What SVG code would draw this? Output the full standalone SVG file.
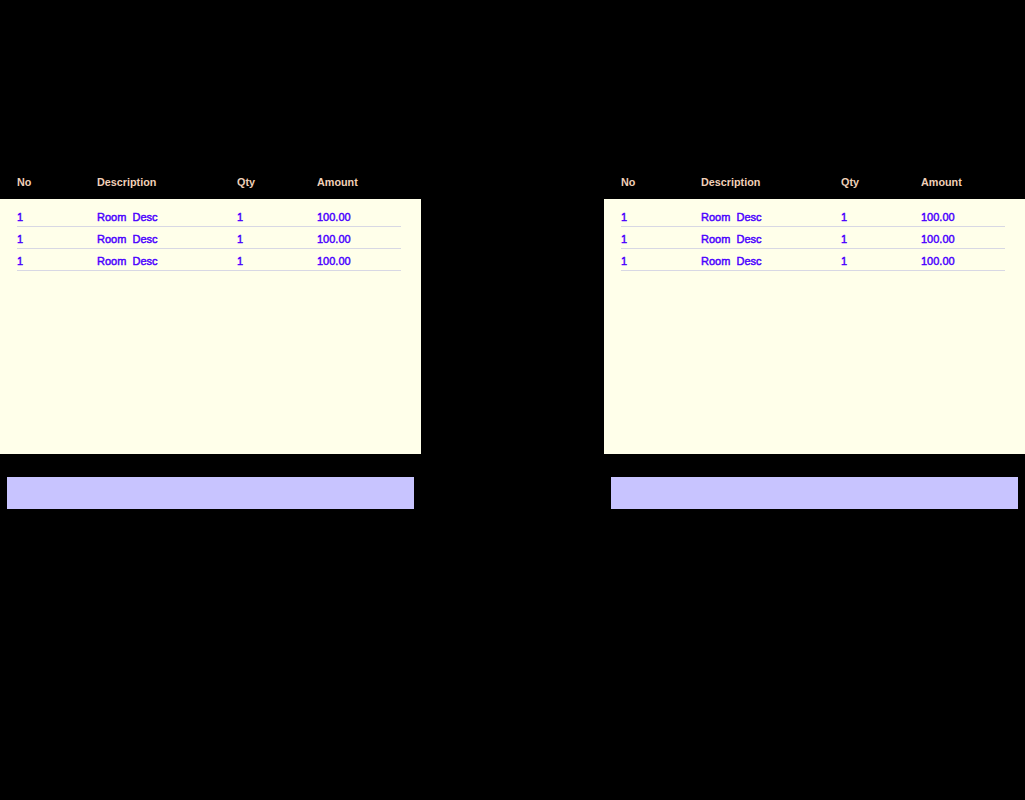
<svg xmlns="http://www.w3.org/2000/svg" width="1025" height="800" viewBox="0 0 1025 800">
<style>
.hd{font-family:"Liberation Sans",Arial,sans-serif;font-size:10.8px;font-weight:bold;fill:#f0d0b8}
.td{font-family:"Liberation Sans",Arial,sans-serif;font-size:11px;fill:#4a00ff;white-space:pre;stroke:#4a00ff;stroke-width:0.45}
.panel{fill:#ffffea}
.bar{fill:#c8c4ff}
.sep{stroke:#d8d8e4;stroke-width:1}
</style>
<rect x="0" y="0" width="1025" height="800" fill="#000"/>
<g id="left-table">
<rect class="panel" x="0" y="199" width="421" height="255"/>
<text class="hd" x="17" y="186">No</text>
<text class="hd" x="97" y="186">Description</text>
<text class="hd" x="237" y="186">Qty</text>
<text class="hd" x="317" y="186">Amount</text>
<g>
<text class="td" x="17" y="221">1</text><text class="td" x="97" y="221" xml:space="preserve">Room  Desc</text><text class="td" x="237" y="221">1</text><text class="td" x="317" y="221">100.00</text>
<line class="sep" x1="17" y1="226.5" x2="401" y2="226.5"/>
<text class="td" x="17" y="243">1</text><text class="td" x="97" y="243" xml:space="preserve">Room  Desc</text><text class="td" x="237" y="243">1</text><text class="td" x="317" y="243">100.00</text>
<line class="sep" x1="17" y1="248.5" x2="401" y2="248.5"/>
<text class="td" x="17" y="265">1</text><text class="td" x="97" y="265" xml:space="preserve">Room  Desc</text><text class="td" x="237" y="265">1</text><text class="td" x="317" y="265">100.00</text>
<line class="sep" x1="17" y1="270.5" x2="401" y2="270.5"/>
</g>
</g>
<g id="left-bar"><rect class="bar" x="7" y="477" width="407" height="32"/></g>
<g id="right-table">
<rect class="panel" x="604" y="199" width="421" height="255"/>
<text class="hd" x="621" y="186">No</text>
<text class="hd" x="701" y="186">Description</text>
<text class="hd" x="841" y="186">Qty</text>
<text class="hd" x="921" y="186">Amount</text>
<g>
<text class="td" x="621" y="221">1</text><text class="td" x="701" y="221" xml:space="preserve">Room  Desc</text><text class="td" x="841" y="221">1</text><text class="td" x="921" y="221">100.00</text>
<line class="sep" x1="621" y1="226.5" x2="1005" y2="226.5"/>
<text class="td" x="621" y="243">1</text><text class="td" x="701" y="243" xml:space="preserve">Room  Desc</text><text class="td" x="841" y="243">1</text><text class="td" x="921" y="243">100.00</text>
<line class="sep" x1="621" y1="248.5" x2="1005" y2="248.5"/>
<text class="td" x="621" y="265">1</text><text class="td" x="701" y="265" xml:space="preserve">Room  Desc</text><text class="td" x="841" y="265">1</text><text class="td" x="921" y="265">100.00</text>
<line class="sep" x1="621" y1="270.5" x2="1005" y2="270.5"/>
</g>
</g>
<g id="right-bar"><rect class="bar" x="611" y="477" width="407" height="32"/></g>
<g id="connectors"/>
</svg>
